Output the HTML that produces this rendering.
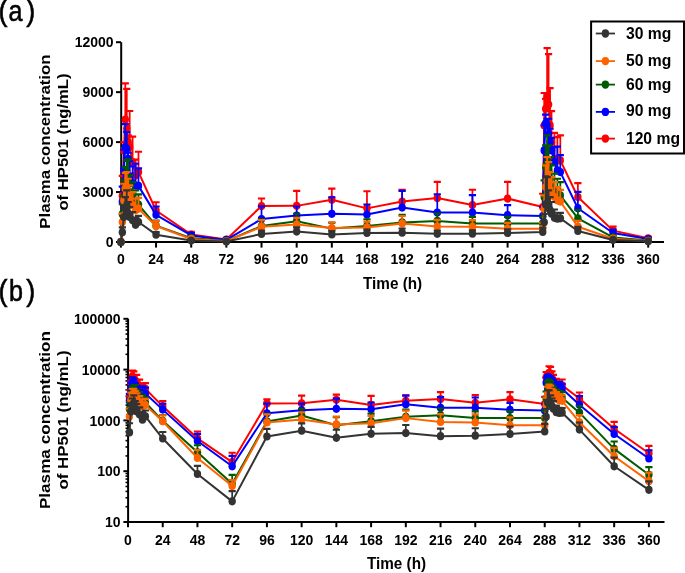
<!DOCTYPE html>
<html><head><meta charset="utf-8"><style>
html,body{margin:0;padding:0;background:#fff;}
body{width:685px;height:573px;overflow:hidden;}
svg{display:block;will-change:transform;}
text{font-family:"Liberation Sans", sans-serif;fill:#000;}
.tk{font-size:14px;font-weight:bold;}
.ttl{font-size:15.3px;font-weight:bold;}
.yt{font-size:15.4px;font-weight:bold;}
.lg{font-size:15.7px;font-weight:bold;}
.lbl text{font-size:27px;stroke:#000;stroke-width:0.55px;}
</style></head><body>
<svg width="685" height="573" viewBox="0 0 685 573">
<path d="M121.2,42.2V243" stroke="#000" stroke-width="2" fill="none"/>
<path d="M120.2,242H664" stroke="#000" stroke-width="2" fill="none"/>
<path d="M116,242H121" stroke="#000" stroke-width="2"/>
<text transform="translate(113.6,247.2) scale(1,1.06)" text-anchor="end" class="tk">0</text>
<path d="M116,192.05H121" stroke="#000" stroke-width="2"/>
<text transform="translate(113.6,197.25) scale(1,1.06)" text-anchor="end" class="tk">3000</text>
<path d="M116,142.1H121" stroke="#000" stroke-width="2"/>
<text transform="translate(113.6,147.3) scale(1,1.06)" text-anchor="end" class="tk">6000</text>
<path d="M116,92.15H121" stroke="#000" stroke-width="2"/>
<text transform="translate(113.6,97.35) scale(1,1.06)" text-anchor="end" class="tk">9000</text>
<path d="M116,42.2H121" stroke="#000" stroke-width="2"/>
<text transform="translate(113.6,47.4) scale(1,1.06)" text-anchor="end" class="tk">12000</text>
<path d="M120.9,242V247.6" stroke="#000" stroke-width="2"/>
<text transform="translate(120.9,264.3) scale(1,1.06)" text-anchor="middle" class="tk">0</text>
<path d="M156.05,242V247.6" stroke="#000" stroke-width="2"/>
<text transform="translate(156.05,264.3) scale(1,1.06)" text-anchor="middle" class="tk">24</text>
<path d="M191.21,242V247.6" stroke="#000" stroke-width="2"/>
<text transform="translate(191.21,264.3) scale(1,1.06)" text-anchor="middle" class="tk">48</text>
<path d="M226.36,242V247.6" stroke="#000" stroke-width="2"/>
<text transform="translate(226.36,264.3) scale(1,1.06)" text-anchor="middle" class="tk">72</text>
<path d="M261.51,242V247.6" stroke="#000" stroke-width="2"/>
<text transform="translate(261.51,264.3) scale(1,1.06)" text-anchor="middle" class="tk">96</text>
<path d="M296.67,242V247.6" stroke="#000" stroke-width="2"/>
<text transform="translate(296.67,264.3) scale(1,1.06)" text-anchor="middle" class="tk">120</text>
<path d="M331.82,242V247.6" stroke="#000" stroke-width="2"/>
<text transform="translate(331.82,264.3) scale(1,1.06)" text-anchor="middle" class="tk">144</text>
<path d="M366.97,242V247.6" stroke="#000" stroke-width="2"/>
<text transform="translate(366.97,264.3) scale(1,1.06)" text-anchor="middle" class="tk">168</text>
<path d="M402.13,242V247.6" stroke="#000" stroke-width="2"/>
<text transform="translate(402.13,264.3) scale(1,1.06)" text-anchor="middle" class="tk">192</text>
<path d="M437.28,242V247.6" stroke="#000" stroke-width="2"/>
<text transform="translate(437.28,264.3) scale(1,1.06)" text-anchor="middle" class="tk">216</text>
<path d="M472.43,242V247.6" stroke="#000" stroke-width="2"/>
<text transform="translate(472.43,264.3) scale(1,1.06)" text-anchor="middle" class="tk">240</text>
<path d="M507.59,242V247.6" stroke="#000" stroke-width="2"/>
<text transform="translate(507.59,264.3) scale(1,1.06)" text-anchor="middle" class="tk">264</text>
<path d="M542.74,242V247.6" stroke="#000" stroke-width="2"/>
<text transform="translate(542.74,264.3) scale(1,1.06)" text-anchor="middle" class="tk">288</text>
<path d="M577.89,242V247.6" stroke="#000" stroke-width="2"/>
<text transform="translate(577.89,264.3) scale(1,1.06)" text-anchor="middle" class="tk">312</text>
<path d="M613.05,242V247.6" stroke="#000" stroke-width="2"/>
<text transform="translate(613.05,264.3) scale(1,1.06)" text-anchor="middle" class="tk">336</text>
<path d="M648.2,242V247.6" stroke="#000" stroke-width="2"/>
<text transform="translate(648.2,264.3) scale(1,1.06)" text-anchor="middle" class="tk">360</text>
<text transform="translate(392.6,288.5) scale(1,1.08)" text-anchor="middle" class="ttl">Time (h)</text>
<text transform="translate(49.9,141.6) rotate(-90) scale(1.089,1)" text-anchor="middle" class="yt">Plasma concentration</text>
<text transform="translate(68.2,142) rotate(-90) scale(1.085,1)" text-anchor="middle" class="yt">of HP501 (ng/mL)</text>
<g transform="translate(0,21.3) scale(1,1.1)" class="lbl"><text x="-1.4" y="0">(</text><text transform="translate(8.5,0) scale(0.93,1)">a</text><text x="26.2" y="0">)</text></g>
<path d="M120.9,242 L122.36,195.88 L123.83,150.43 L125.29,119.62 L126.76,128.78 L128.22,142.1 L129.69,147.09 L132.62,162.08 L135.55,175.4 L138.48,172.07 L156.05,210.53 L191.21,234.61 L226.36,239.49 L261.51,206.04 L296.67,205.87 L331.82,199.71 L366.97,208.37 L402.13,201.54 L437.28,198.04 L472.43,205.04 L507.59,198.54 L542.74,207.03 L544.2,125.45 L545.67,108.8 L547.13,97.64 L548.6,104.54 L550.06,125.45 L551.53,142.1 L554.46,158.75 L557.39,160.42 L560.32,160.42 L577.89,197.05 L613.05,230.61 L648.2,238.24" fill="none" stroke="#ff0000" stroke-width="2" stroke-linejoin="round"/>
<path d="M122.36,195.88V175.9M123.83,150.43V142.1M125.29,119.62V83.33M126.76,128.78V88.82M128.22,142.1V135.44M129.69,147.09V110.96M132.62,162.08V136.61M135.55,175.4V159.58M138.48,172.07V151.76M156.05,210.53V202.21M191.21,234.61V231.94M226.36,239.49V238.15M261.51,206.04V198.54M296.67,205.87V190.88M331.82,199.71V188.55M366.97,208.37V191.22M402.13,201.54V189.89M437.28,198.04V181.89M472.43,205.04V189.72M507.59,198.54V181.89M542.74,207.03V193.72M544.2,125.45V92.98M545.67,108.8V98.81M547.13,97.64V48.19M548.6,104.54V54.19M550.06,125.45V88.05M551.53,142.1V111.13M554.46,158.75V132.81M557.39,160.42V137.11M560.32,160.42V135.44M577.89,197.05V183.06M613.05,230.61V226.45M648.2,238.24V236.74" fill="none" stroke="#ff0000" stroke-width="1.75"/>
<path d="M118.76,175.9H125.96M120.23,142.1H127.43M121.69,83.33H128.89M123.16,88.82H130.36M124.62,135.44H131.82M126.09,110.96H133.29M129.02,136.61H136.22M131.95,159.58H139.15M134.88,151.76H142.08M152.45,202.21H159.65M187.61,231.94H194.81M222.76,238.15H229.96M257.91,198.54H265.11M293.07,190.88H300.27M328.22,188.55H335.42M363.37,191.22H370.57M398.53,189.89H405.73M433.68,181.89H440.88M468.83,189.72H476.03M503.99,181.89H511.19M539.14,193.72H546.34M540.6,92.98H547.8M542.07,98.81H549.27M543.53,48.19H550.73M545,54.19H552.2M546.46,88.05H553.66M547.93,111.13H555.13M550.86,132.81H558.06M553.79,137.11H560.99M556.72,135.44H563.92M574.29,183.06H581.49M609.45,226.45H616.65M644.6,236.74H651.8" fill="none" stroke="#ff0000" stroke-width="2.15"/>
<ellipse cx="120.9" cy="242" rx="3.7" ry="4.1" fill="#ff0000"/>
<ellipse cx="122.36" cy="195.88" rx="3.7" ry="4.1" fill="#ff0000"/>
<ellipse cx="123.83" cy="150.43" rx="3.7" ry="4.1" fill="#ff0000"/>
<ellipse cx="125.29" cy="119.62" rx="3.7" ry="4.1" fill="#ff0000"/>
<ellipse cx="126.76" cy="128.78" rx="3.7" ry="4.1" fill="#ff0000"/>
<ellipse cx="128.22" cy="142.1" rx="3.7" ry="4.1" fill="#ff0000"/>
<ellipse cx="129.69" cy="147.09" rx="3.7" ry="4.1" fill="#ff0000"/>
<ellipse cx="132.62" cy="162.08" rx="3.7" ry="4.1" fill="#ff0000"/>
<ellipse cx="135.55" cy="175.4" rx="3.7" ry="4.1" fill="#ff0000"/>
<ellipse cx="138.48" cy="172.07" rx="3.7" ry="4.1" fill="#ff0000"/>
<ellipse cx="156.05" cy="210.53" rx="3.7" ry="4.1" fill="#ff0000"/>
<ellipse cx="191.21" cy="234.61" rx="3.7" ry="4.1" fill="#ff0000"/>
<ellipse cx="226.36" cy="239.49" rx="3.7" ry="4.1" fill="#ff0000"/>
<ellipse cx="261.51" cy="206.04" rx="3.7" ry="4.1" fill="#ff0000"/>
<ellipse cx="296.67" cy="205.87" rx="3.7" ry="4.1" fill="#ff0000"/>
<ellipse cx="331.82" cy="199.71" rx="3.7" ry="4.1" fill="#ff0000"/>
<ellipse cx="366.97" cy="208.37" rx="3.7" ry="4.1" fill="#ff0000"/>
<ellipse cx="402.13" cy="201.54" rx="3.7" ry="4.1" fill="#ff0000"/>
<ellipse cx="437.28" cy="198.04" rx="3.7" ry="4.1" fill="#ff0000"/>
<ellipse cx="472.43" cy="205.04" rx="3.7" ry="4.1" fill="#ff0000"/>
<ellipse cx="507.59" cy="198.54" rx="3.7" ry="4.1" fill="#ff0000"/>
<ellipse cx="542.74" cy="207.03" rx="3.7" ry="4.1" fill="#ff0000"/>
<ellipse cx="544.2" cy="125.45" rx="3.7" ry="4.1" fill="#ff0000"/>
<ellipse cx="545.67" cy="108.8" rx="3.7" ry="4.1" fill="#ff0000"/>
<ellipse cx="547.13" cy="97.64" rx="3.7" ry="4.1" fill="#ff0000"/>
<ellipse cx="548.6" cy="104.54" rx="3.7" ry="4.1" fill="#ff0000"/>
<ellipse cx="550.06" cy="125.45" rx="3.7" ry="4.1" fill="#ff0000"/>
<ellipse cx="551.53" cy="142.1" rx="3.7" ry="4.1" fill="#ff0000"/>
<ellipse cx="554.46" cy="158.75" rx="3.7" ry="4.1" fill="#ff0000"/>
<ellipse cx="557.39" cy="160.42" rx="3.7" ry="4.1" fill="#ff0000"/>
<ellipse cx="560.32" cy="160.42" rx="3.7" ry="4.1" fill="#ff0000"/>
<ellipse cx="577.89" cy="197.05" rx="3.7" ry="4.1" fill="#ff0000"/>
<ellipse cx="613.05" cy="230.61" rx="3.7" ry="4.1" fill="#ff0000"/>
<ellipse cx="648.2" cy="238.24" rx="3.7" ry="4.1" fill="#ff0000"/>
<path d="M120.9,242 L122.36,201.54 L123.83,169.67 L125.29,147.09 L126.76,148.76 L128.22,158.75 L129.69,176.07 L132.62,183.06 L135.55,185.39 L138.48,185.89 L156.05,214.86 L191.21,235.46 L226.36,239.92 L261.51,219.02 L296.67,215.61 L331.82,213.86 L366.97,214.53 L402.13,207.53 L437.28,212.53 L472.43,212.53 L507.59,215.13 L542.74,216.03 L544.2,150.43 L545.67,123.45 L547.13,125.45 L548.6,133.78 L550.06,142.1 L551.53,150.43 L554.46,162.08 L557.39,170.41 L560.32,172.07 L577.89,208.2 L613.05,233.01 L648.2,239.04" fill="none" stroke="#0000ff" stroke-width="2" stroke-linejoin="round"/>
<path d="M122.36,201.54V186.56M123.83,169.67V149.69M125.29,147.09V124.12M126.76,148.76V132.11M128.22,158.75V152.76M129.69,176.07V161.08M132.62,183.06V166.41M135.55,185.39V163.75M138.48,185.89V168.41M156.05,214.86V206.54M191.21,235.46V232.96M226.36,239.92V238.67M261.51,219.02V206.37M296.67,215.61V206.45M331.82,213.86V197.21M366.97,214.53V204.54M402.13,207.53V190.88M437.28,212.53V194.21M472.43,212.53V195.05M507.59,215.13V205.14M542.74,216.03V206.87M544.2,150.43V125.45M545.67,123.45V114.63M547.13,125.45V118.79M548.6,133.78V118.79M550.06,142.1V128.78M551.53,150.43V137.94M554.46,162.08V147.09M557.39,170.41V146.6M560.32,172.07V155.09M577.89,208.2V191.88M613.05,233.01V229.68M648.2,239.04V237.7" fill="none" stroke="#0000ff" stroke-width="1.75"/>
<path d="M118.76,186.56H125.96M120.23,149.69H127.43M121.69,124.12H128.89M123.16,132.11H130.36M124.62,152.76H131.82M126.09,161.08H133.29M129.02,166.41H136.22M131.95,163.75H139.15M134.88,168.41H142.08M152.45,206.54H159.65M187.61,232.96H194.81M222.76,238.67H229.96M257.91,206.37H265.11M293.07,206.45H300.27M328.22,197.21H335.42M363.37,204.54H370.57M398.53,190.88H405.73M433.68,194.21H440.88M468.83,195.05H476.03M503.99,205.14H511.19M539.14,206.87H546.34M540.6,125.45H547.8M542.07,114.63H549.27M543.53,118.79H550.73M545,118.79H552.2M546.46,128.78H553.66M547.93,137.94H555.13M550.86,147.09H558.06M553.79,146.6H560.99M556.72,155.09H563.92M574.29,191.88H581.49M609.45,229.68H616.65M644.6,237.7H651.8" fill="none" stroke="#0000ff" stroke-width="2.15"/>
<ellipse cx="120.9" cy="242" rx="3.7" ry="4.1" fill="#0000ff"/>
<ellipse cx="122.36" cy="201.54" rx="3.7" ry="4.1" fill="#0000ff"/>
<ellipse cx="123.83" cy="169.67" rx="3.7" ry="4.1" fill="#0000ff"/>
<ellipse cx="125.29" cy="147.09" rx="3.7" ry="4.1" fill="#0000ff"/>
<ellipse cx="126.76" cy="148.76" rx="3.7" ry="4.1" fill="#0000ff"/>
<ellipse cx="128.22" cy="158.75" rx="3.7" ry="4.1" fill="#0000ff"/>
<ellipse cx="129.69" cy="176.07" rx="3.7" ry="4.1" fill="#0000ff"/>
<ellipse cx="132.62" cy="183.06" rx="3.7" ry="4.1" fill="#0000ff"/>
<ellipse cx="135.55" cy="185.39" rx="3.7" ry="4.1" fill="#0000ff"/>
<ellipse cx="138.48" cy="185.89" rx="3.7" ry="4.1" fill="#0000ff"/>
<ellipse cx="156.05" cy="214.86" rx="3.7" ry="4.1" fill="#0000ff"/>
<ellipse cx="191.21" cy="235.46" rx="3.7" ry="4.1" fill="#0000ff"/>
<ellipse cx="226.36" cy="239.92" rx="3.7" ry="4.1" fill="#0000ff"/>
<ellipse cx="261.51" cy="219.02" rx="3.7" ry="4.1" fill="#0000ff"/>
<ellipse cx="296.67" cy="215.61" rx="3.7" ry="4.1" fill="#0000ff"/>
<ellipse cx="331.82" cy="213.86" rx="3.7" ry="4.1" fill="#0000ff"/>
<ellipse cx="366.97" cy="214.53" rx="3.7" ry="4.1" fill="#0000ff"/>
<ellipse cx="402.13" cy="207.53" rx="3.7" ry="4.1" fill="#0000ff"/>
<ellipse cx="437.28" cy="212.53" rx="3.7" ry="4.1" fill="#0000ff"/>
<ellipse cx="472.43" cy="212.53" rx="3.7" ry="4.1" fill="#0000ff"/>
<ellipse cx="507.59" cy="215.13" rx="3.7" ry="4.1" fill="#0000ff"/>
<ellipse cx="542.74" cy="216.03" rx="3.7" ry="4.1" fill="#0000ff"/>
<ellipse cx="544.2" cy="150.43" rx="3.7" ry="4.1" fill="#0000ff"/>
<ellipse cx="545.67" cy="123.45" rx="3.7" ry="4.1" fill="#0000ff"/>
<ellipse cx="547.13" cy="125.45" rx="3.7" ry="4.1" fill="#0000ff"/>
<ellipse cx="548.6" cy="133.78" rx="3.7" ry="4.1" fill="#0000ff"/>
<ellipse cx="550.06" cy="142.1" rx="3.7" ry="4.1" fill="#0000ff"/>
<ellipse cx="551.53" cy="150.43" rx="3.7" ry="4.1" fill="#0000ff"/>
<ellipse cx="554.46" cy="162.08" rx="3.7" ry="4.1" fill="#0000ff"/>
<ellipse cx="557.39" cy="170.41" rx="3.7" ry="4.1" fill="#0000ff"/>
<ellipse cx="560.32" cy="172.07" rx="3.7" ry="4.1" fill="#0000ff"/>
<ellipse cx="577.89" cy="208.2" rx="3.7" ry="4.1" fill="#0000ff"/>
<ellipse cx="613.05" cy="233.01" rx="3.7" ry="4.1" fill="#0000ff"/>
<ellipse cx="648.2" cy="239.04" rx="3.7" ry="4.1" fill="#0000ff"/>
<path d="M120.9,242 L122.36,214.19 L123.83,197.05 L125.29,187.06 L126.76,182.06 L128.22,183.72 L129.69,192.05 L132.62,197.05 L135.55,202.04 L138.48,204.54 L156.05,225.68 L191.21,238.09 L226.36,241.06 L261.51,226.1 L296.67,221.24 L331.82,228.61 L366.97,225.95 L402.13,222.44 L437.28,220.94 L472.43,223.54 L507.59,223.54 L542.74,223.45 L544.2,197.05 L545.67,167.07 L547.13,163.75 L548.6,170.41 L550.06,178.73 L551.53,185.39 L554.46,190.38 L557.39,193.72 L560.32,195.38 L577.89,218.36 L613.05,237.42 L648.2,240.58" fill="none" stroke="#005a00" stroke-width="2" stroke-linejoin="round"/>
<path d="M122.36,214.19V204.2M123.83,197.05V180.4M125.29,187.06V167.07M126.76,182.06V160.42M128.22,183.72V159.25M129.69,192.05V175.4M132.62,197.05V182.06M135.55,202.04V190.38M138.48,204.54V194.38M156.05,225.68V220.69M191.21,238.09V236.59M226.36,241.06V240.59M261.51,226.1V219.44M296.67,221.24V213.74M331.82,228.61V222.79M366.97,225.95V219.29M402.13,222.44V214.94M437.28,220.94V213.45M472.43,223.54V216.88M507.59,223.54V216.88M542.74,223.45V216.79M544.2,197.05V180.4M545.67,167.07V145.43M547.13,163.75V135.44M548.6,170.41V145.43M550.06,178.73V157.08M551.53,185.39V165.41M554.46,190.38V173.74M557.39,193.72V178.73M560.32,195.38V182.06M577.89,218.36V210.03M613.05,237.42V235.59M648.2,240.58V240" fill="none" stroke="#005a00" stroke-width="1.75"/>
<path d="M118.76,204.2H125.96M120.23,180.4H127.43M121.69,167.07H128.89M123.16,160.42H130.36M124.62,159.25H131.82M126.09,175.4H133.29M129.02,182.06H136.22M131.95,190.38H139.15M134.88,194.38H142.08M152.45,220.69H159.65M187.61,236.59H194.81M222.76,240.59H229.96M257.91,219.44H265.11M293.07,213.74H300.27M328.22,222.79H335.42M363.37,219.29H370.57M398.53,214.94H405.73M433.68,213.45H440.88M468.83,216.88H476.03M503.99,216.88H511.19M539.14,216.79H546.34M540.6,180.4H547.8M542.07,145.43H549.27M543.53,135.44H550.73M545,145.43H552.2M546.46,157.08H553.66M547.93,165.41H555.13M550.86,173.74H558.06M553.79,178.73H560.99M556.72,182.06H563.92M574.29,210.03H581.49M609.45,235.59H616.65M644.6,240H651.8" fill="none" stroke="#005a00" stroke-width="2.15"/>
<ellipse cx="120.9" cy="242" rx="3.7" ry="4.1" fill="#005a00"/>
<ellipse cx="122.36" cy="214.19" rx="3.7" ry="4.1" fill="#005a00"/>
<ellipse cx="123.83" cy="197.05" rx="3.7" ry="4.1" fill="#005a00"/>
<ellipse cx="125.29" cy="187.06" rx="3.7" ry="4.1" fill="#005a00"/>
<ellipse cx="126.76" cy="182.06" rx="3.7" ry="4.1" fill="#005a00"/>
<ellipse cx="128.22" cy="183.72" rx="3.7" ry="4.1" fill="#005a00"/>
<ellipse cx="129.69" cy="192.05" rx="3.7" ry="4.1" fill="#005a00"/>
<ellipse cx="132.62" cy="197.05" rx="3.7" ry="4.1" fill="#005a00"/>
<ellipse cx="135.55" cy="202.04" rx="3.7" ry="4.1" fill="#005a00"/>
<ellipse cx="138.48" cy="204.54" rx="3.7" ry="4.1" fill="#005a00"/>
<ellipse cx="156.05" cy="225.68" rx="3.7" ry="4.1" fill="#005a00"/>
<ellipse cx="191.21" cy="238.09" rx="3.7" ry="4.1" fill="#005a00"/>
<ellipse cx="226.36" cy="241.06" rx="3.7" ry="4.1" fill="#005a00"/>
<ellipse cx="261.51" cy="226.1" rx="3.7" ry="4.1" fill="#005a00"/>
<ellipse cx="296.67" cy="221.24" rx="3.7" ry="4.1" fill="#005a00"/>
<ellipse cx="331.82" cy="228.61" rx="3.7" ry="4.1" fill="#005a00"/>
<ellipse cx="366.97" cy="225.95" rx="3.7" ry="4.1" fill="#005a00"/>
<ellipse cx="402.13" cy="222.44" rx="3.7" ry="4.1" fill="#005a00"/>
<ellipse cx="437.28" cy="220.94" rx="3.7" ry="4.1" fill="#005a00"/>
<ellipse cx="472.43" cy="223.54" rx="3.7" ry="4.1" fill="#005a00"/>
<ellipse cx="507.59" cy="223.54" rx="3.7" ry="4.1" fill="#005a00"/>
<ellipse cx="542.74" cy="223.45" rx="3.7" ry="4.1" fill="#005a00"/>
<ellipse cx="544.2" cy="197.05" rx="3.7" ry="4.1" fill="#005a00"/>
<ellipse cx="545.67" cy="167.07" rx="3.7" ry="4.1" fill="#005a00"/>
<ellipse cx="547.13" cy="163.75" rx="3.7" ry="4.1" fill="#005a00"/>
<ellipse cx="548.6" cy="170.41" rx="3.7" ry="4.1" fill="#005a00"/>
<ellipse cx="550.06" cy="178.73" rx="3.7" ry="4.1" fill="#005a00"/>
<ellipse cx="551.53" cy="185.39" rx="3.7" ry="4.1" fill="#005a00"/>
<ellipse cx="554.46" cy="190.38" rx="3.7" ry="4.1" fill="#005a00"/>
<ellipse cx="557.39" cy="193.72" rx="3.7" ry="4.1" fill="#005a00"/>
<ellipse cx="560.32" cy="195.38" rx="3.7" ry="4.1" fill="#005a00"/>
<ellipse cx="577.89" cy="218.36" rx="3.7" ry="4.1" fill="#005a00"/>
<ellipse cx="613.05" cy="237.42" rx="3.7" ry="4.1" fill="#005a00"/>
<ellipse cx="648.2" cy="240.58" rx="3.7" ry="4.1" fill="#005a00"/>
<path d="M120.9,242 L122.36,222.02 L123.83,200.38 L125.29,188.55 L126.76,190.38 L128.22,195.38 L129.69,200.38 L132.62,205.37 L135.55,210.37 L138.48,208.7 L156.05,226.02 L191.21,238.97 L226.36,241.15 L261.51,226.85 L296.67,224.57 L331.82,228.11 L366.97,227.4 L402.13,223.54 L437.28,226.5 L472.43,226.83 L507.59,228.66 L542.74,228.66 L544.2,208.7 L545.67,187.06 L547.13,180.4 L548.6,183.72 L550.06,190.38 L551.53,193.72 L554.46,197.05 L557.39,200.38 L560.32,201.54 L577.89,226.68 L613.05,238.72 L648.2,240.94" fill="none" stroke="#ff6300" stroke-width="2" stroke-linejoin="round"/>
<path d="M122.36,222.02V213.69M123.83,200.38V183.72M125.29,188.55V172.9M126.76,190.38V172.07M128.22,195.38V178.73M129.69,200.38V185.39M132.62,205.37V192.05M135.55,210.37V198.71M138.48,208.7V197.88M156.05,226.02V221.02M191.21,238.97V237.64M226.36,241.15V240.88M261.51,226.85V220.19M296.67,224.57V217.91M331.82,228.11V222.29M366.97,227.4V221.57M402.13,223.54V216.04M437.28,226.5V219.84M472.43,226.83V220.17M507.59,228.66V222.84M542.74,228.66V222.84M544.2,208.7V195.38M545.67,187.06V165.41M547.13,180.4V157.08M548.6,183.72V162.08M550.06,190.38V172.07M551.53,193.72V177.06M554.46,197.05V182.06M557.39,200.38V187.06M560.32,201.54V189.89M577.89,226.68V220.85M613.05,238.72V237.22M648.2,240.94V240.44" fill="none" stroke="#ff6300" stroke-width="1.75"/>
<path d="M118.76,213.69H125.96M120.23,183.72H127.43M121.69,172.9H128.89M123.16,172.07H130.36M124.62,178.73H131.82M126.09,185.39H133.29M129.02,192.05H136.22M131.95,198.71H139.15M134.88,197.88H142.08M152.45,221.02H159.65M187.61,237.64H194.81M222.76,240.88H229.96M257.91,220.19H265.11M293.07,217.91H300.27M328.22,222.29H335.42M363.37,221.57H370.57M398.53,216.04H405.73M433.68,219.84H440.88M468.83,220.17H476.03M503.99,222.84H511.19M539.14,222.84H546.34M540.6,195.38H547.8M542.07,165.41H549.27M543.53,157.08H550.73M545,162.08H552.2M546.46,172.07H553.66M547.93,177.06H555.13M550.86,182.06H558.06M553.79,187.06H560.99M556.72,189.89H563.92M574.29,220.85H581.49M609.45,237.22H616.65M644.6,240.44H651.8" fill="none" stroke="#ff6300" stroke-width="2.15"/>
<ellipse cx="120.9" cy="242" rx="3.7" ry="4.1" fill="#ff6300"/>
<ellipse cx="122.36" cy="222.02" rx="3.7" ry="4.1" fill="#ff6300"/>
<ellipse cx="123.83" cy="200.38" rx="3.7" ry="4.1" fill="#ff6300"/>
<ellipse cx="125.29" cy="188.55" rx="3.7" ry="4.1" fill="#ff6300"/>
<ellipse cx="126.76" cy="190.38" rx="3.7" ry="4.1" fill="#ff6300"/>
<ellipse cx="128.22" cy="195.38" rx="3.7" ry="4.1" fill="#ff6300"/>
<ellipse cx="129.69" cy="200.38" rx="3.7" ry="4.1" fill="#ff6300"/>
<ellipse cx="132.62" cy="205.37" rx="3.7" ry="4.1" fill="#ff6300"/>
<ellipse cx="135.55" cy="210.37" rx="3.7" ry="4.1" fill="#ff6300"/>
<ellipse cx="138.48" cy="208.7" rx="3.7" ry="4.1" fill="#ff6300"/>
<ellipse cx="156.05" cy="226.02" rx="3.7" ry="4.1" fill="#ff6300"/>
<ellipse cx="191.21" cy="238.97" rx="3.7" ry="4.1" fill="#ff6300"/>
<ellipse cx="226.36" cy="241.15" rx="3.7" ry="4.1" fill="#ff6300"/>
<ellipse cx="261.51" cy="226.85" rx="3.7" ry="4.1" fill="#ff6300"/>
<ellipse cx="296.67" cy="224.57" rx="3.7" ry="4.1" fill="#ff6300"/>
<ellipse cx="331.82" cy="228.11" rx="3.7" ry="4.1" fill="#ff6300"/>
<ellipse cx="366.97" cy="227.4" rx="3.7" ry="4.1" fill="#ff6300"/>
<ellipse cx="402.13" cy="223.54" rx="3.7" ry="4.1" fill="#ff6300"/>
<ellipse cx="437.28" cy="226.5" rx="3.7" ry="4.1" fill="#ff6300"/>
<ellipse cx="472.43" cy="226.83" rx="3.7" ry="4.1" fill="#ff6300"/>
<ellipse cx="507.59" cy="228.66" rx="3.7" ry="4.1" fill="#ff6300"/>
<ellipse cx="542.74" cy="228.66" rx="3.7" ry="4.1" fill="#ff6300"/>
<ellipse cx="544.2" cy="208.7" rx="3.7" ry="4.1" fill="#ff6300"/>
<ellipse cx="545.67" cy="187.06" rx="3.7" ry="4.1" fill="#ff6300"/>
<ellipse cx="547.13" cy="180.4" rx="3.7" ry="4.1" fill="#ff6300"/>
<ellipse cx="548.6" cy="183.72" rx="3.7" ry="4.1" fill="#ff6300"/>
<ellipse cx="550.06" cy="190.38" rx="3.7" ry="4.1" fill="#ff6300"/>
<ellipse cx="551.53" cy="193.72" rx="3.7" ry="4.1" fill="#ff6300"/>
<ellipse cx="554.46" cy="197.05" rx="3.7" ry="4.1" fill="#ff6300"/>
<ellipse cx="557.39" cy="200.38" rx="3.7" ry="4.1" fill="#ff6300"/>
<ellipse cx="560.32" cy="201.54" rx="3.7" ry="4.1" fill="#ff6300"/>
<ellipse cx="577.89" cy="226.68" rx="3.7" ry="4.1" fill="#ff6300"/>
<ellipse cx="613.05" cy="238.72" rx="3.7" ry="4.1" fill="#ff6300"/>
<ellipse cx="648.2" cy="240.94" rx="3.7" ry="4.1" fill="#ff6300"/>
<path d="M120.9,242 L122.36,232.34 L123.83,217.03 L125.29,208.7 L126.76,205.37 L128.22,213.69 L129.69,217.03 L132.62,220.35 L135.55,224.85 L138.48,222.02 L156.05,234.67 L191.21,240.53 L226.36,241.58 L261.51,233.97 L296.67,231.56 L331.82,234.44 L366.97,232.93 L402.13,232.64 L437.28,233.86 L472.43,233.68 L507.59,233.01 L542.74,231.93 L544.2,222.35 L545.67,204.54 L547.13,203.7 L548.6,207.03 L550.06,210.37 L551.53,213.69 L554.46,217.86 L557.39,218.69 L560.32,218.36 L577.89,231.01 L613.05,239.92 L648.2,241.28" fill="none" stroke="#333333" stroke-width="2" stroke-linejoin="round"/>
<path d="M122.36,232.34V227.35M123.83,217.03V205.37M125.29,208.7V197.05M126.76,205.37V190.38M128.22,213.69V202.04M129.69,217.03V207.03M132.62,220.35V212.03M135.55,224.85V217.86M138.48,222.02V215.86M156.05,234.67V232.18M191.21,240.53V239.89M226.36,241.58V241.33M261.51,233.97V230.64M296.67,231.56V227.4M331.82,234.44V231.11M366.97,232.93V229.6M402.13,232.64V228.48M437.28,233.86V230.53M472.43,233.68V230.34M507.59,233.01V229.35M542.74,231.93V227.76M544.2,222.35V214.03M545.67,204.54V176.23M547.13,203.7V177.06M548.6,207.03V190.38M550.06,210.37V197.05M551.53,213.69V202.04M554.46,217.86V209.53M557.39,218.69V212.7M560.32,218.36V212.86M577.89,231.01V226.85M613.05,239.92V238.92M648.2,241.28V240.95" fill="none" stroke="#333333" stroke-width="1.75"/>
<path d="M118.76,227.35H125.96M120.23,205.37H127.43M121.69,197.05H128.89M123.16,190.38H130.36M124.62,202.04H131.82M126.09,207.03H133.29M129.02,212.03H136.22M131.95,217.86H139.15M134.88,215.86H142.08M152.45,232.18H159.65M187.61,239.89H194.81M222.76,241.33H229.96M257.91,230.64H265.11M293.07,227.4H300.27M328.22,231.11H335.42M363.37,229.6H370.57M398.53,228.48H405.73M433.68,230.53H440.88M468.83,230.34H476.03M503.99,229.35H511.19M539.14,227.76H546.34M540.6,214.03H547.8M542.07,176.23H549.27M543.53,177.06H550.73M545,190.38H552.2M546.46,197.05H553.66M547.93,202.04H555.13M550.86,209.53H558.06M553.79,212.7H560.99M556.72,212.86H563.92M574.29,226.85H581.49M609.45,238.92H616.65M644.6,240.95H651.8" fill="none" stroke="#333333" stroke-width="2.15"/>
<ellipse cx="120.9" cy="242" rx="3.7" ry="4.1" fill="#333333"/>
<ellipse cx="122.36" cy="232.34" rx="3.7" ry="4.1" fill="#333333"/>
<ellipse cx="123.83" cy="217.03" rx="3.7" ry="4.1" fill="#333333"/>
<ellipse cx="125.29" cy="208.7" rx="3.7" ry="4.1" fill="#333333"/>
<ellipse cx="126.76" cy="205.37" rx="3.7" ry="4.1" fill="#333333"/>
<ellipse cx="128.22" cy="213.69" rx="3.7" ry="4.1" fill="#333333"/>
<ellipse cx="129.69" cy="217.03" rx="3.7" ry="4.1" fill="#333333"/>
<ellipse cx="132.62" cy="220.35" rx="3.7" ry="4.1" fill="#333333"/>
<ellipse cx="135.55" cy="224.85" rx="3.7" ry="4.1" fill="#333333"/>
<ellipse cx="138.48" cy="222.02" rx="3.7" ry="4.1" fill="#333333"/>
<ellipse cx="156.05" cy="234.67" rx="3.7" ry="4.1" fill="#333333"/>
<ellipse cx="191.21" cy="240.53" rx="3.7" ry="4.1" fill="#333333"/>
<ellipse cx="226.36" cy="241.58" rx="3.7" ry="4.1" fill="#333333"/>
<ellipse cx="261.51" cy="233.97" rx="3.7" ry="4.1" fill="#333333"/>
<ellipse cx="296.67" cy="231.56" rx="3.7" ry="4.1" fill="#333333"/>
<ellipse cx="331.82" cy="234.44" rx="3.7" ry="4.1" fill="#333333"/>
<ellipse cx="366.97" cy="232.93" rx="3.7" ry="4.1" fill="#333333"/>
<ellipse cx="402.13" cy="232.64" rx="3.7" ry="4.1" fill="#333333"/>
<ellipse cx="437.28" cy="233.86" rx="3.7" ry="4.1" fill="#333333"/>
<ellipse cx="472.43" cy="233.68" rx="3.7" ry="4.1" fill="#333333"/>
<ellipse cx="507.59" cy="233.01" rx="3.7" ry="4.1" fill="#333333"/>
<ellipse cx="542.74" cy="231.93" rx="3.7" ry="4.1" fill="#333333"/>
<ellipse cx="544.2" cy="222.35" rx="3.7" ry="4.1" fill="#333333"/>
<ellipse cx="545.67" cy="204.54" rx="3.7" ry="4.1" fill="#333333"/>
<ellipse cx="547.13" cy="203.7" rx="3.7" ry="4.1" fill="#333333"/>
<ellipse cx="548.6" cy="207.03" rx="3.7" ry="4.1" fill="#333333"/>
<ellipse cx="550.06" cy="210.37" rx="3.7" ry="4.1" fill="#333333"/>
<ellipse cx="551.53" cy="213.69" rx="3.7" ry="4.1" fill="#333333"/>
<ellipse cx="554.46" cy="217.86" rx="3.7" ry="4.1" fill="#333333"/>
<ellipse cx="557.39" cy="218.69" rx="3.7" ry="4.1" fill="#333333"/>
<ellipse cx="560.32" cy="218.36" rx="3.7" ry="4.1" fill="#333333"/>
<ellipse cx="577.89" cy="231.01" rx="3.7" ry="4.1" fill="#333333"/>
<ellipse cx="613.05" cy="239.92" rx="3.7" ry="4.1" fill="#333333"/>
<ellipse cx="648.2" cy="241.28" rx="3.7" ry="4.1" fill="#333333"/>
<rect x="591.1" y="21.5" width="92.9" height="132" fill="#fff" stroke="#000" stroke-width="2"/>
<path d="M595.8,33.5H615" stroke="#333333" stroke-width="1.8"/>
<ellipse cx="605.4" cy="33.5" rx="3.7" ry="4.15" fill="#333333"/>
<text transform="translate(625.9,38.7) scale(1,1.07)" class="lg">30 mg</text>
<path d="M595.8,61.1H615" stroke="#ff6300" stroke-width="1.8"/>
<ellipse cx="605.4" cy="61.1" rx="3.7" ry="4.15" fill="#ff6300"/>
<text transform="translate(625.9,66.0) scale(1,1.07)" class="lg">50 mg</text>
<path d="M595.8,84.6H615" stroke="#005a00" stroke-width="1.8"/>
<ellipse cx="605.4" cy="84.6" rx="3.7" ry="4.15" fill="#005a00"/>
<text transform="translate(625.9,89.6) scale(1,1.07)" class="lg">60 mg</text>
<path d="M595.8,111.9H615" stroke="#0000ff" stroke-width="1.8"/>
<ellipse cx="605.4" cy="111.9" rx="3.7" ry="4.15" fill="#0000ff"/>
<text transform="translate(625.9,116.3) scale(1,1.07)" class="lg">90 mg</text>
<path d="M595.8,138.6H615" stroke="#ff0000" stroke-width="1.8"/>
<ellipse cx="605.4" cy="138.6" rx="3.7" ry="4.15" fill="#ff0000"/>
<text transform="translate(625.9,143.5) scale(1,1.07)" class="lg">120 mg</text>
<path d="M128.1,318.8V523" stroke="#000" stroke-width="2" fill="none"/>
<path d="M127.1,522H664.5" stroke="#000" stroke-width="2" fill="none"/>
<path d="M123.4,522H128.3" stroke="#000" stroke-width="2"/>
<text transform="translate(120.6,527.2) scale(1,1.06)" text-anchor="end" class="tk">10</text>
<path d="M125.5,506.71H128.3" stroke="#000" stroke-width="1.6"/>
<path d="M125.5,497.76H128.3" stroke="#000" stroke-width="1.6"/>
<path d="M125.5,491.42H128.3" stroke="#000" stroke-width="1.6"/>
<path d="M125.5,486.49H128.3" stroke="#000" stroke-width="1.6"/>
<path d="M125.5,482.47H128.3" stroke="#000" stroke-width="1.6"/>
<path d="M125.5,479.07H128.3" stroke="#000" stroke-width="1.6"/>
<path d="M125.5,476.12H128.3" stroke="#000" stroke-width="1.6"/>
<path d="M125.5,473.52H128.3" stroke="#000" stroke-width="1.6"/>
<path d="M123.4,471.2H128.3" stroke="#000" stroke-width="2"/>
<text transform="translate(120.6,476.4) scale(1,1.06)" text-anchor="end" class="tk">100</text>
<path d="M125.5,455.91H128.3" stroke="#000" stroke-width="1.6"/>
<path d="M125.5,446.96H128.3" stroke="#000" stroke-width="1.6"/>
<path d="M125.5,440.62H128.3" stroke="#000" stroke-width="1.6"/>
<path d="M125.5,435.69H128.3" stroke="#000" stroke-width="1.6"/>
<path d="M125.5,431.67H128.3" stroke="#000" stroke-width="1.6"/>
<path d="M125.5,428.27H128.3" stroke="#000" stroke-width="1.6"/>
<path d="M125.5,425.32H128.3" stroke="#000" stroke-width="1.6"/>
<path d="M125.5,422.72H128.3" stroke="#000" stroke-width="1.6"/>
<path d="M123.4,420.4H128.3" stroke="#000" stroke-width="2"/>
<text transform="translate(120.6,425.6) scale(1,1.06)" text-anchor="end" class="tk">1000</text>
<path d="M125.5,405.11H128.3" stroke="#000" stroke-width="1.6"/>
<path d="M125.5,396.16H128.3" stroke="#000" stroke-width="1.6"/>
<path d="M125.5,389.82H128.3" stroke="#000" stroke-width="1.6"/>
<path d="M125.5,384.89H128.3" stroke="#000" stroke-width="1.6"/>
<path d="M125.5,380.87H128.3" stroke="#000" stroke-width="1.6"/>
<path d="M125.5,377.47H128.3" stroke="#000" stroke-width="1.6"/>
<path d="M125.5,374.52H128.3" stroke="#000" stroke-width="1.6"/>
<path d="M125.5,371.92H128.3" stroke="#000" stroke-width="1.6"/>
<path d="M123.4,369.6H128.3" stroke="#000" stroke-width="2"/>
<text transform="translate(120.6,374.8) scale(1,1.06)" text-anchor="end" class="tk">10000</text>
<path d="M125.5,354.31H128.3" stroke="#000" stroke-width="1.6"/>
<path d="M125.5,345.36H128.3" stroke="#000" stroke-width="1.6"/>
<path d="M125.5,339.02H128.3" stroke="#000" stroke-width="1.6"/>
<path d="M125.5,334.09H128.3" stroke="#000" stroke-width="1.6"/>
<path d="M125.5,330.07H128.3" stroke="#000" stroke-width="1.6"/>
<path d="M125.5,326.67H128.3" stroke="#000" stroke-width="1.6"/>
<path d="M125.5,323.72H128.3" stroke="#000" stroke-width="1.6"/>
<path d="M125.5,321.12H128.3" stroke="#000" stroke-width="1.6"/>
<path d="M123.4,318.8H128.3" stroke="#000" stroke-width="2"/>
<text transform="translate(120.6,324) scale(1,1.06)" text-anchor="end" class="tk">100000</text>
<path d="M128,522V527.2" stroke="#000" stroke-width="2"/>
<text transform="translate(128,544.5) scale(1,1.06)" text-anchor="middle" class="tk">0</text>
<path d="M162.73,522V527.2" stroke="#000" stroke-width="2"/>
<text transform="translate(162.73,544.5) scale(1,1.06)" text-anchor="middle" class="tk">24</text>
<path d="M197.45,522V527.2" stroke="#000" stroke-width="2"/>
<text transform="translate(197.45,544.5) scale(1,1.06)" text-anchor="middle" class="tk">48</text>
<path d="M232.18,522V527.2" stroke="#000" stroke-width="2"/>
<text transform="translate(232.18,544.5) scale(1,1.06)" text-anchor="middle" class="tk">72</text>
<path d="M266.91,522V527.2" stroke="#000" stroke-width="2"/>
<text transform="translate(266.91,544.5) scale(1,1.06)" text-anchor="middle" class="tk">96</text>
<path d="M301.63,522V527.2" stroke="#000" stroke-width="2"/>
<text transform="translate(301.63,544.5) scale(1,1.06)" text-anchor="middle" class="tk">120</text>
<path d="M336.36,522V527.2" stroke="#000" stroke-width="2"/>
<text transform="translate(336.36,544.5) scale(1,1.06)" text-anchor="middle" class="tk">144</text>
<path d="M371.09,522V527.2" stroke="#000" stroke-width="2"/>
<text transform="translate(371.09,544.5) scale(1,1.06)" text-anchor="middle" class="tk">168</text>
<path d="M405.81,522V527.2" stroke="#000" stroke-width="2"/>
<text transform="translate(405.81,544.5) scale(1,1.06)" text-anchor="middle" class="tk">192</text>
<path d="M440.54,522V527.2" stroke="#000" stroke-width="2"/>
<text transform="translate(440.54,544.5) scale(1,1.06)" text-anchor="middle" class="tk">216</text>
<path d="M475.27,522V527.2" stroke="#000" stroke-width="2"/>
<text transform="translate(475.27,544.5) scale(1,1.06)" text-anchor="middle" class="tk">240</text>
<path d="M509.99,522V527.2" stroke="#000" stroke-width="2"/>
<text transform="translate(509.99,544.5) scale(1,1.06)" text-anchor="middle" class="tk">264</text>
<path d="M544.72,522V527.2" stroke="#000" stroke-width="2"/>
<text transform="translate(544.72,544.5) scale(1,1.06)" text-anchor="middle" class="tk">288</text>
<path d="M579.45,522V527.2" stroke="#000" stroke-width="2"/>
<text transform="translate(579.45,544.5) scale(1,1.06)" text-anchor="middle" class="tk">312</text>
<path d="M614.17,522V527.2" stroke="#000" stroke-width="2"/>
<text transform="translate(614.17,544.5) scale(1,1.06)" text-anchor="middle" class="tk">336</text>
<path d="M648.9,522V527.2" stroke="#000" stroke-width="2"/>
<text transform="translate(648.9,544.5) scale(1,1.06)" text-anchor="middle" class="tk">360</text>
<text transform="translate(396.5,568.7) scale(1,1.08)" text-anchor="middle" class="ttl">Time (h)</text>
<text transform="translate(49.8,420.1) rotate(-90) scale(1.113,1)" text-anchor="middle" class="yt">Plasma concentration</text>
<text transform="translate(68.4,420) rotate(-90) scale(1.1,1)" text-anchor="middle" class="yt">of HP501 (ng/mL)</text>
<g transform="translate(0,300.8) scale(1,1.1)" class="lbl"><text x="-1.4" y="0">(</text><text transform="translate(9,0) scale(0.93,1)">b</text><text x="26.2" y="0">)</text></g>
<path d="M129.45,397.92 L130.89,382.79 L132.34,376.39 L133.79,378.11 L135.23,380.87 L136.68,382 L139.58,385.79 L142.47,389.82 L145.36,388.74 L162.73,406.36 L197.45,438.31 L232.18,462.11 L266.91,403.41 L301.63,403.31 L336.36,399.83 L371.09,404.89 L405.81,400.81 L440.54,398.98 L475.27,402.81 L509.99,399.23 L544.72,404.03 L546.17,377.47 L547.61,374.52 L549.06,372.75 L550.51,373.83 L551.95,377.47 L553.4,380.87 L556.3,384.89 L559.19,385.34 L562.08,385.34 L579.45,398.49 L614.17,428.78 L648.9,453.21" fill="none" stroke="#ff0000" stroke-width="2" stroke-linejoin="round"/>
<path d="M129.45,397.92V389.98M130.89,382.79V380.87M132.34,376.39V370.66M133.79,378.11V371.44M135.23,380.87V379.45M136.68,382V374.88M139.58,385.79V379.69M142.47,389.82V385.11M145.36,388.74V383.11M162.73,406.36V401.18M197.45,438.31V431.52M232.18,462.11V452.73M266.91,403.41V399.23M301.63,403.31V395.65M336.36,399.83V394.67M371.09,404.89V395.8M405.81,400.81V395.23M440.54,398.98V392.08M475.27,402.81V395.16M509.99,399.23V392.08M544.72,404.03V396.91M546.17,377.47V372.05M547.61,374.52V372.93M549.06,372.75V366.25M550.51,373.83V366.94M551.95,377.47V371.33M553.4,380.87V374.91M556.3,384.89V378.91M559.19,385.34V379.79M562.08,385.34V379.45M579.45,398.49V392.51M614.17,428.78V421.91M648.9,453.21V445.82" fill="none" stroke="#ff0000" stroke-width="1.75"/>
<path d="M125.85,389.98H133.05M127.29,380.87H134.49M128.74,370.66H135.94M130.19,371.44H137.39M131.63,379.45H138.83M133.08,374.88H140.28M135.98,379.69H143.18M138.87,385.11H146.07M141.76,383.11H148.96M159.13,401.18H166.33M193.85,431.52H201.05M228.58,452.73H235.78M263.31,399.23H270.51M298.03,395.65H305.23M332.76,394.67H339.96M367.49,395.8H374.69M402.21,395.23H409.41M436.94,392.08H444.14M471.67,395.16H478.87M506.39,392.08H513.59M541.12,396.91H548.32M542.57,372.05H549.77M544.01,372.93H551.21M545.46,366.25H552.66M546.91,366.94H554.11M548.35,371.33H555.55M549.8,374.91H557M552.7,378.91H559.9M555.59,379.79H562.79M558.48,379.45H565.68M575.85,392.51H583.05M610.57,421.91H617.77M645.3,445.82H652.5" fill="none" stroke="#ff0000" stroke-width="2.15"/>
<ellipse cx="129.45" cy="397.92" rx="3.7" ry="4.1" fill="#ff0000"/>
<ellipse cx="130.89" cy="382.79" rx="3.7" ry="4.1" fill="#ff0000"/>
<ellipse cx="132.34" cy="376.39" rx="3.7" ry="4.1" fill="#ff0000"/>
<ellipse cx="133.79" cy="378.11" rx="3.7" ry="4.1" fill="#ff0000"/>
<ellipse cx="135.23" cy="380.87" rx="3.7" ry="4.1" fill="#ff0000"/>
<ellipse cx="136.68" cy="382" rx="3.7" ry="4.1" fill="#ff0000"/>
<ellipse cx="139.58" cy="385.79" rx="3.7" ry="4.1" fill="#ff0000"/>
<ellipse cx="142.47" cy="389.82" rx="3.7" ry="4.1" fill="#ff0000"/>
<ellipse cx="145.36" cy="388.74" rx="3.7" ry="4.1" fill="#ff0000"/>
<ellipse cx="162.73" cy="406.36" rx="3.7" ry="4.1" fill="#ff0000"/>
<ellipse cx="197.45" cy="438.31" rx="3.7" ry="4.1" fill="#ff0000"/>
<ellipse cx="232.18" cy="462.11" rx="3.7" ry="4.1" fill="#ff0000"/>
<ellipse cx="266.91" cy="403.41" rx="3.7" ry="4.1" fill="#ff0000"/>
<ellipse cx="301.63" cy="403.31" rx="3.7" ry="4.1" fill="#ff0000"/>
<ellipse cx="336.36" cy="399.83" rx="3.7" ry="4.1" fill="#ff0000"/>
<ellipse cx="371.09" cy="404.89" rx="3.7" ry="4.1" fill="#ff0000"/>
<ellipse cx="405.81" cy="400.81" rx="3.7" ry="4.1" fill="#ff0000"/>
<ellipse cx="440.54" cy="398.98" rx="3.7" ry="4.1" fill="#ff0000"/>
<ellipse cx="475.27" cy="402.81" rx="3.7" ry="4.1" fill="#ff0000"/>
<ellipse cx="509.99" cy="399.23" rx="3.7" ry="4.1" fill="#ff0000"/>
<ellipse cx="544.72" cy="404.03" rx="3.7" ry="4.1" fill="#ff0000"/>
<ellipse cx="546.17" cy="377.47" rx="3.7" ry="4.1" fill="#ff0000"/>
<ellipse cx="547.61" cy="374.52" rx="3.7" ry="4.1" fill="#ff0000"/>
<ellipse cx="549.06" cy="372.75" rx="3.7" ry="4.1" fill="#ff0000"/>
<ellipse cx="550.51" cy="373.83" rx="3.7" ry="4.1" fill="#ff0000"/>
<ellipse cx="551.95" cy="377.47" rx="3.7" ry="4.1" fill="#ff0000"/>
<ellipse cx="553.4" cy="380.87" rx="3.7" ry="4.1" fill="#ff0000"/>
<ellipse cx="556.3" cy="384.89" rx="3.7" ry="4.1" fill="#ff0000"/>
<ellipse cx="559.19" cy="385.34" rx="3.7" ry="4.1" fill="#ff0000"/>
<ellipse cx="562.08" cy="385.34" rx="3.7" ry="4.1" fill="#ff0000"/>
<ellipse cx="579.45" cy="398.49" rx="3.7" ry="4.1" fill="#ff0000"/>
<ellipse cx="614.17" cy="428.78" rx="3.7" ry="4.1" fill="#ff0000"/>
<ellipse cx="648.9" cy="453.21" rx="3.7" ry="4.1" fill="#ff0000"/>
<path d="M129.45,400.81 L130.89,388 L132.34,382 L133.79,382.39 L135.23,384.89 L136.68,390.04 L139.58,392.51 L142.47,393.4 L145.36,393.6 L162.73,409.62 L197.45,441 L232.18,466.28 L266.91,413.29 L301.63,410.24 L336.36,408.82 L371.09,409.35 L405.81,404.35 L440.54,407.8 L475.27,407.8 L509.99,409.84 L544.72,410.59 L546.17,382.79 L547.61,377.09 L549.06,377.47 L550.51,379.1 L551.95,380.87 L553.4,382.79 L556.3,385.79 L559.19,388.22 L562.08,388.74 L579.45,404.78 L614.17,433.99 L648.9,458.48" fill="none" stroke="#0000ff" stroke-width="2" stroke-linejoin="round"/>
<path d="M129.45,400.81V393.86M130.89,388V382.61M132.34,382V377.22M133.79,382.39V378.77M135.23,384.89V383.36M136.68,390.04V385.52M139.58,392.51V387.02M142.47,393.4V386.26M145.36,393.6V387.61M162.73,409.62V403.72M197.45,441V433.87M232.18,466.28V455.91M266.91,413.29V403.61M301.63,410.24V403.67M336.36,408.82V398.57M371.09,409.35V402.51M405.81,404.35V395.65M440.54,407.8V397.14M475.27,407.8V397.53M509.99,409.84V402.86M544.72,410.59V403.93M546.17,382.79V377.47M547.61,377.09V375.51M549.06,377.47V376.24M550.51,379.1V376.24M551.95,380.87V378.11M553.4,382.79V379.97M556.3,385.79V382M559.19,388.22V381.89M562.08,388.74V383.94M579.45,404.78V396.09M614.17,433.99V427.04M648.9,458.48V450.29" fill="none" stroke="#0000ff" stroke-width="1.75"/>
<path d="M125.85,393.86H133.05M127.29,382.61H134.49M128.74,377.22H135.94M130.19,378.77H137.39M131.63,383.36H138.83M133.08,385.52H140.28M135.98,387.02H143.18M138.87,386.26H146.07M141.76,387.61H148.96M159.13,403.72H166.33M193.85,433.87H201.05M228.58,455.91H235.78M263.31,403.61H270.51M298.03,403.67H305.23M332.76,398.57H339.96M367.49,402.51H374.69M402.21,395.65H409.41M436.94,397.14H444.14M471.67,397.53H478.87M506.39,402.86H513.59M541.12,403.93H548.32M542.57,377.47H549.77M544.01,375.51H551.21M545.46,376.24H552.66M546.91,376.24H554.11M548.35,378.11H555.55M549.8,379.97H557M552.7,382H559.9M555.59,381.89H562.79M558.48,383.94H565.68M575.85,396.09H583.05M610.57,427.04H617.77M645.3,450.29H652.5" fill="none" stroke="#0000ff" stroke-width="2.15"/>
<ellipse cx="129.45" cy="400.81" rx="3.7" ry="4.1" fill="#0000ff"/>
<ellipse cx="130.89" cy="388" rx="3.7" ry="4.1" fill="#0000ff"/>
<ellipse cx="132.34" cy="382" rx="3.7" ry="4.1" fill="#0000ff"/>
<ellipse cx="133.79" cy="382.39" rx="3.7" ry="4.1" fill="#0000ff"/>
<ellipse cx="135.23" cy="384.89" rx="3.7" ry="4.1" fill="#0000ff"/>
<ellipse cx="136.68" cy="390.04" rx="3.7" ry="4.1" fill="#0000ff"/>
<ellipse cx="139.58" cy="392.51" rx="3.7" ry="4.1" fill="#0000ff"/>
<ellipse cx="142.47" cy="393.4" rx="3.7" ry="4.1" fill="#0000ff"/>
<ellipse cx="145.36" cy="393.6" rx="3.7" ry="4.1" fill="#0000ff"/>
<ellipse cx="162.73" cy="409.62" rx="3.7" ry="4.1" fill="#0000ff"/>
<ellipse cx="197.45" cy="441" rx="3.7" ry="4.1" fill="#0000ff"/>
<ellipse cx="232.18" cy="466.28" rx="3.7" ry="4.1" fill="#0000ff"/>
<ellipse cx="266.91" cy="413.29" rx="3.7" ry="4.1" fill="#0000ff"/>
<ellipse cx="301.63" cy="410.24" rx="3.7" ry="4.1" fill="#0000ff"/>
<ellipse cx="336.36" cy="408.82" rx="3.7" ry="4.1" fill="#0000ff"/>
<ellipse cx="371.09" cy="409.35" rx="3.7" ry="4.1" fill="#0000ff"/>
<ellipse cx="405.81" cy="404.35" rx="3.7" ry="4.1" fill="#0000ff"/>
<ellipse cx="440.54" cy="407.8" rx="3.7" ry="4.1" fill="#0000ff"/>
<ellipse cx="475.27" cy="407.8" rx="3.7" ry="4.1" fill="#0000ff"/>
<ellipse cx="509.99" cy="409.84" rx="3.7" ry="4.1" fill="#0000ff"/>
<ellipse cx="544.72" cy="410.59" rx="3.7" ry="4.1" fill="#0000ff"/>
<ellipse cx="546.17" cy="382.79" rx="3.7" ry="4.1" fill="#0000ff"/>
<ellipse cx="547.61" cy="377.09" rx="3.7" ry="4.1" fill="#0000ff"/>
<ellipse cx="549.06" cy="377.47" rx="3.7" ry="4.1" fill="#0000ff"/>
<ellipse cx="550.51" cy="379.1" rx="3.7" ry="4.1" fill="#0000ff"/>
<ellipse cx="551.95" cy="380.87" rx="3.7" ry="4.1" fill="#0000ff"/>
<ellipse cx="553.4" cy="382.79" rx="3.7" ry="4.1" fill="#0000ff"/>
<ellipse cx="556.3" cy="385.79" rx="3.7" ry="4.1" fill="#0000ff"/>
<ellipse cx="559.19" cy="388.22" rx="3.7" ry="4.1" fill="#0000ff"/>
<ellipse cx="562.08" cy="388.74" rx="3.7" ry="4.1" fill="#0000ff"/>
<ellipse cx="579.45" cy="404.78" rx="3.7" ry="4.1" fill="#0000ff"/>
<ellipse cx="614.17" cy="433.99" rx="3.7" ry="4.1" fill="#0000ff"/>
<ellipse cx="648.9" cy="458.48" rx="3.7" ry="4.1" fill="#0000ff"/>
<path d="M129.45,409.09 L130.89,398.49 L132.34,394.06 L133.79,392.14 L135.23,392.76 L136.68,396.16 L139.58,398.49 L142.47,401.09 L145.36,402.51 L162.73,420.85 L197.45,452.35 L232.18,483.8 L266.91,421.42 L301.63,415.53 L336.36,425.21 L371.09,421.21 L405.81,416.84 L440.54,415.21 L475.27,418.12 L509.99,418.12 L544.72,418.02 L546.17,398.49 L547.61,387.22 L549.06,386.26 L550.51,388.22 L551.95,390.95 L553.4,393.4 L556.3,395.44 L559.19,396.91 L562.08,397.68 L579.45,412.66 L614.17,448.88 L648.9,474.79" fill="none" stroke="#005a00" stroke-width="2" stroke-linejoin="round"/>
<path d="M129.45,409.09V402.31M130.89,398.49V391.54M132.34,394.06V387.22M133.79,392.14V385.34M135.23,392.76V385.03M136.68,396.16V389.82M139.58,398.49V392.14M142.47,401.09V395.44M145.36,402.51V397.22M162.73,420.85V414.95M197.45,452.35V445.2M232.18,483.8V474.92M266.91,421.42V413.7M301.63,415.53V408.73M336.36,425.21V417.24M371.09,421.21V413.55M405.81,416.84V409.69M440.54,415.21V408.5M475.27,418.12V411.32M509.99,418.12V411.32M544.72,418.02V411.25M546.17,398.49V391.54M547.61,387.22V381.62M549.06,386.26V379.45M550.51,388.22V381.62M551.95,390.95V384.46M553.4,393.4V386.73M556.3,395.44V389.27M559.19,396.91V390.95M562.08,397.68V392.14M579.45,412.66V406.01M614.17,448.88V441.46M648.9,474.79V467.18" fill="none" stroke="#005a00" stroke-width="1.75"/>
<path d="M125.85,402.31H133.05M127.29,391.54H134.49M128.74,387.22H135.94M130.19,385.34H137.39M131.63,385.03H138.83M133.08,389.82H140.28M135.98,392.14H143.18M138.87,395.44H146.07M141.76,397.22H148.96M159.13,414.95H166.33M193.85,445.2H201.05M228.58,474.92H235.78M263.31,413.7H270.51M298.03,408.73H305.23M332.76,417.24H339.96M367.49,413.55H374.69M402.21,409.69H409.41M436.94,408.5H444.14M471.67,411.32H478.87M506.39,411.32H513.59M541.12,411.25H548.32M542.57,391.54H549.77M544.01,381.62H551.21M545.46,379.45H552.66M546.91,381.62H554.11M548.35,384.46H555.55M549.8,386.73H557M552.7,389.27H559.9M555.59,390.95H562.79M558.48,392.14H565.68M575.85,406.01H583.05M610.57,441.46H617.77M645.3,467.18H652.5" fill="none" stroke="#005a00" stroke-width="2.15"/>
<ellipse cx="129.45" cy="409.09" rx="3.7" ry="4.1" fill="#005a00"/>
<ellipse cx="130.89" cy="398.49" rx="3.7" ry="4.1" fill="#005a00"/>
<ellipse cx="132.34" cy="394.06" rx="3.7" ry="4.1" fill="#005a00"/>
<ellipse cx="133.79" cy="392.14" rx="3.7" ry="4.1" fill="#005a00"/>
<ellipse cx="135.23" cy="392.76" rx="3.7" ry="4.1" fill="#005a00"/>
<ellipse cx="136.68" cy="396.16" rx="3.7" ry="4.1" fill="#005a00"/>
<ellipse cx="139.58" cy="398.49" rx="3.7" ry="4.1" fill="#005a00"/>
<ellipse cx="142.47" cy="401.09" rx="3.7" ry="4.1" fill="#005a00"/>
<ellipse cx="145.36" cy="402.51" rx="3.7" ry="4.1" fill="#005a00"/>
<ellipse cx="162.73" cy="420.85" rx="3.7" ry="4.1" fill="#005a00"/>
<ellipse cx="197.45" cy="452.35" rx="3.7" ry="4.1" fill="#005a00"/>
<ellipse cx="232.18" cy="483.8" rx="3.7" ry="4.1" fill="#005a00"/>
<ellipse cx="266.91" cy="421.42" rx="3.7" ry="4.1" fill="#005a00"/>
<ellipse cx="301.63" cy="415.53" rx="3.7" ry="4.1" fill="#005a00"/>
<ellipse cx="336.36" cy="425.21" rx="3.7" ry="4.1" fill="#005a00"/>
<ellipse cx="371.09" cy="421.21" rx="3.7" ry="4.1" fill="#005a00"/>
<ellipse cx="405.81" cy="416.84" rx="3.7" ry="4.1" fill="#005a00"/>
<ellipse cx="440.54" cy="415.21" rx="3.7" ry="4.1" fill="#005a00"/>
<ellipse cx="475.27" cy="418.12" rx="3.7" ry="4.1" fill="#005a00"/>
<ellipse cx="509.99" cy="418.12" rx="3.7" ry="4.1" fill="#005a00"/>
<ellipse cx="544.72" cy="418.02" rx="3.7" ry="4.1" fill="#005a00"/>
<ellipse cx="546.17" cy="398.49" rx="3.7" ry="4.1" fill="#005a00"/>
<ellipse cx="547.61" cy="387.22" rx="3.7" ry="4.1" fill="#005a00"/>
<ellipse cx="549.06" cy="386.26" rx="3.7" ry="4.1" fill="#005a00"/>
<ellipse cx="550.51" cy="388.22" rx="3.7" ry="4.1" fill="#005a00"/>
<ellipse cx="551.95" cy="390.95" rx="3.7" ry="4.1" fill="#005a00"/>
<ellipse cx="553.4" cy="393.4" rx="3.7" ry="4.1" fill="#005a00"/>
<ellipse cx="556.3" cy="395.44" rx="3.7" ry="4.1" fill="#005a00"/>
<ellipse cx="559.19" cy="396.91" rx="3.7" ry="4.1" fill="#005a00"/>
<ellipse cx="562.08" cy="397.68" rx="3.7" ry="4.1" fill="#005a00"/>
<ellipse cx="579.45" cy="412.66" rx="3.7" ry="4.1" fill="#005a00"/>
<ellipse cx="614.17" cy="448.88" rx="3.7" ry="4.1" fill="#005a00"/>
<ellipse cx="648.9" cy="474.79" rx="3.7" ry="4.1" fill="#005a00"/>
<path d="M129.45,416.38 L130.89,400.18 L132.34,394.67 L133.79,395.44 L135.23,397.68 L136.68,400.18 L139.58,403 L142.47,406.24 L145.36,405.11 L162.73,421.3 L197.45,457.99 L232.18,486.06 L266.91,422.48 L301.63,419.39 L336.36,424.4 L371.09,423.3 L405.81,418.12 L440.54,421.98 L475.27,422.46 L509.99,425.3 L544.72,425.3 L546.17,405.11 L547.61,394.06 L549.06,391.54 L550.51,392.76 L551.95,395.44 L553.4,396.91 L556.3,398.49 L559.19,400.18 L562.08,400.81 L579.45,422.24 L614.17,456.24 L648.9,481.18" fill="none" stroke="#ff6300" stroke-width="2" stroke-linejoin="round"/>
<path d="M129.45,416.38V408.69M130.89,400.18V392.76M132.34,394.67V389M133.79,395.44V388.74M135.23,397.68V390.95M136.68,400.18V393.4M139.58,403V396.16M142.47,406.24V399.32M145.36,405.11V398.9M162.73,421.3V415.3M197.45,457.99V449.95M232.18,486.06V480.04M266.91,422.48V414.44M301.63,419.39V412.25M336.36,424.4V416.67M371.09,423.3V415.89M405.81,418.12V410.6M440.54,421.98V414.09M475.27,422.46V414.43M509.99,425.3V417.3M544.72,425.3V417.3M546.17,405.11V397.68M547.61,394.06V386.73M549.06,391.54V384.46M550.51,392.76V385.79M551.95,395.44V388.74M553.4,396.91V390.37M556.3,398.49V392.14M559.19,400.18V394.06M562.08,400.81V395.23M579.45,422.24V415.13M614.17,456.24V447.94M648.9,481.18V472.66" fill="none" stroke="#ff6300" stroke-width="1.75"/>
<path d="M125.85,408.69H133.05M127.29,392.76H134.49M128.74,389H135.94M130.19,388.74H137.39M131.63,390.95H138.83M133.08,393.4H140.28M135.98,396.16H143.18M138.87,399.32H146.07M141.76,398.9H148.96M159.13,415.3H166.33M193.85,449.95H201.05M228.58,480.04H235.78M263.31,414.44H270.51M298.03,412.25H305.23M332.76,416.67H339.96M367.49,415.89H374.69M402.21,410.6H409.41M436.94,414.09H444.14M471.67,414.43H478.87M506.39,417.3H513.59M541.12,417.3H548.32M542.57,397.68H549.77M544.01,386.73H551.21M545.46,384.46H552.66M546.91,385.79H554.11M548.35,388.74H555.55M549.8,390.37H557M552.7,392.14H559.9M555.59,394.06H562.79M558.48,395.23H565.68M575.85,415.13H583.05M610.57,447.94H617.77M645.3,472.66H652.5" fill="none" stroke="#ff6300" stroke-width="2.15"/>
<ellipse cx="129.45" cy="416.38" rx="3.7" ry="4.1" fill="#ff6300"/>
<ellipse cx="130.89" cy="400.18" rx="3.7" ry="4.1" fill="#ff6300"/>
<ellipse cx="132.34" cy="394.67" rx="3.7" ry="4.1" fill="#ff6300"/>
<ellipse cx="133.79" cy="395.44" rx="3.7" ry="4.1" fill="#ff6300"/>
<ellipse cx="135.23" cy="397.68" rx="3.7" ry="4.1" fill="#ff6300"/>
<ellipse cx="136.68" cy="400.18" rx="3.7" ry="4.1" fill="#ff6300"/>
<ellipse cx="139.58" cy="403" rx="3.7" ry="4.1" fill="#ff6300"/>
<ellipse cx="142.47" cy="406.24" rx="3.7" ry="4.1" fill="#ff6300"/>
<ellipse cx="145.36" cy="405.11" rx="3.7" ry="4.1" fill="#ff6300"/>
<ellipse cx="162.73" cy="421.3" rx="3.7" ry="4.1" fill="#ff6300"/>
<ellipse cx="197.45" cy="457.99" rx="3.7" ry="4.1" fill="#ff6300"/>
<ellipse cx="232.18" cy="486.06" rx="3.7" ry="4.1" fill="#ff6300"/>
<ellipse cx="266.91" cy="422.48" rx="3.7" ry="4.1" fill="#ff6300"/>
<ellipse cx="301.63" cy="419.39" rx="3.7" ry="4.1" fill="#ff6300"/>
<ellipse cx="336.36" cy="424.4" rx="3.7" ry="4.1" fill="#ff6300"/>
<ellipse cx="371.09" cy="423.3" rx="3.7" ry="4.1" fill="#ff6300"/>
<ellipse cx="405.81" cy="418.12" rx="3.7" ry="4.1" fill="#ff6300"/>
<ellipse cx="440.54" cy="421.98" rx="3.7" ry="4.1" fill="#ff6300"/>
<ellipse cx="475.27" cy="422.46" rx="3.7" ry="4.1" fill="#ff6300"/>
<ellipse cx="509.99" cy="425.3" rx="3.7" ry="4.1" fill="#ff6300"/>
<ellipse cx="544.72" cy="425.3" rx="3.7" ry="4.1" fill="#ff6300"/>
<ellipse cx="546.17" cy="405.11" rx="3.7" ry="4.1" fill="#ff6300"/>
<ellipse cx="547.61" cy="394.06" rx="3.7" ry="4.1" fill="#ff6300"/>
<ellipse cx="549.06" cy="391.54" rx="3.7" ry="4.1" fill="#ff6300"/>
<ellipse cx="550.51" cy="392.76" rx="3.7" ry="4.1" fill="#ff6300"/>
<ellipse cx="551.95" cy="395.44" rx="3.7" ry="4.1" fill="#ff6300"/>
<ellipse cx="553.4" cy="396.91" rx="3.7" ry="4.1" fill="#ff6300"/>
<ellipse cx="556.3" cy="398.49" rx="3.7" ry="4.1" fill="#ff6300"/>
<ellipse cx="559.19" cy="400.18" rx="3.7" ry="4.1" fill="#ff6300"/>
<ellipse cx="562.08" cy="400.81" rx="3.7" ry="4.1" fill="#ff6300"/>
<ellipse cx="579.45" cy="422.24" rx="3.7" ry="4.1" fill="#ff6300"/>
<ellipse cx="614.17" cy="456.24" rx="3.7" ry="4.1" fill="#ff6300"/>
<ellipse cx="648.9" cy="481.18" rx="3.7" ry="4.1" fill="#ff6300"/>
<path d="M129.45,432.42 L130.89,411.45 L132.34,405.11 L133.79,403 L135.23,408.69 L136.68,411.45 L139.58,414.61 L142.47,419.75 L145.36,416.38 L162.73,438.51 L197.45,474.02 L232.18,501.35 L266.91,436.5 L301.63,430.7 L336.36,437.82 L371.09,433.79 L405.81,433.11 L440.54,436.18 L475.27,435.69 L509.99,433.99 L544.72,431.49 L546.17,416.75 L547.61,402.51 L549.06,402.02 L550.51,404.03 L551.95,406.24 L553.4,408.69 L556.3,412.2 L559.19,412.98 L562.08,412.66 L579.45,429.57 L614.17,466.28 L648.9,489.82" fill="none" stroke="#333333" stroke-width="2" stroke-linejoin="round"/>
<path d="M129.45,432.42V423.22M130.89,411.45V403M132.34,405.11V398.49M133.79,403V395.44M135.23,408.69V401.09M136.68,411.45V404.03M139.58,414.61V407.43M142.47,419.75V412.2M145.36,416.38V410.45M162.73,438.51V432.04M197.45,474.02V465.93M232.18,501.35V491.14M266.91,436.5V428.84M301.63,430.7V423.3M336.36,437.82V429.77M371.09,433.79V426.89M405.81,433.11V424.99M440.54,436.18V428.62M475.27,435.69V428.27M509.99,433.99V426.45M544.72,431.49V423.86M546.17,416.75V408.95M547.61,402.51V390.09M549.06,402.02V390.37M550.51,404.03V395.44M551.95,406.24V398.49M553.4,408.69V401.09M556.3,412.2V405.67M559.19,412.98V407.93M562.08,412.66V408.05M579.45,429.57V422.48M614.17,466.28V457.63M648.9,489.82V481.39" fill="none" stroke="#333333" stroke-width="1.75"/>
<path d="M125.85,423.22H133.05M127.29,403H134.49M128.74,398.49H135.94M130.19,395.44H137.39M131.63,401.09H138.83M133.08,404.03H140.28M135.98,407.43H143.18M138.87,412.2H146.07M141.76,410.45H148.96M159.13,432.04H166.33M193.85,465.93H201.05M228.58,491.14H235.78M263.31,428.84H270.51M298.03,423.3H305.23M332.76,429.77H339.96M367.49,426.89H374.69M402.21,424.99H409.41M436.94,428.62H444.14M471.67,428.27H478.87M506.39,426.45H513.59M541.12,423.86H548.32M542.57,408.95H549.77M544.01,390.09H551.21M545.46,390.37H552.66M546.91,395.44H554.11M548.35,398.49H555.55M549.8,401.09H557M552.7,405.67H559.9M555.59,407.93H562.79M558.48,408.05H565.68M575.85,422.48H583.05M610.57,457.63H617.77M645.3,481.39H652.5" fill="none" stroke="#333333" stroke-width="2.15"/>
<ellipse cx="129.45" cy="432.42" rx="3.7" ry="4.1" fill="#333333"/>
<ellipse cx="130.89" cy="411.45" rx="3.7" ry="4.1" fill="#333333"/>
<ellipse cx="132.34" cy="405.11" rx="3.7" ry="4.1" fill="#333333"/>
<ellipse cx="133.79" cy="403" rx="3.7" ry="4.1" fill="#333333"/>
<ellipse cx="135.23" cy="408.69" rx="3.7" ry="4.1" fill="#333333"/>
<ellipse cx="136.68" cy="411.45" rx="3.7" ry="4.1" fill="#333333"/>
<ellipse cx="139.58" cy="414.61" rx="3.7" ry="4.1" fill="#333333"/>
<ellipse cx="142.47" cy="419.75" rx="3.7" ry="4.1" fill="#333333"/>
<ellipse cx="145.36" cy="416.38" rx="3.7" ry="4.1" fill="#333333"/>
<ellipse cx="162.73" cy="438.51" rx="3.7" ry="4.1" fill="#333333"/>
<ellipse cx="197.45" cy="474.02" rx="3.7" ry="4.1" fill="#333333"/>
<ellipse cx="232.18" cy="501.35" rx="3.7" ry="4.1" fill="#333333"/>
<ellipse cx="266.91" cy="436.5" rx="3.7" ry="4.1" fill="#333333"/>
<ellipse cx="301.63" cy="430.7" rx="3.7" ry="4.1" fill="#333333"/>
<ellipse cx="336.36" cy="437.82" rx="3.7" ry="4.1" fill="#333333"/>
<ellipse cx="371.09" cy="433.79" rx="3.7" ry="4.1" fill="#333333"/>
<ellipse cx="405.81" cy="433.11" rx="3.7" ry="4.1" fill="#333333"/>
<ellipse cx="440.54" cy="436.18" rx="3.7" ry="4.1" fill="#333333"/>
<ellipse cx="475.27" cy="435.69" rx="3.7" ry="4.1" fill="#333333"/>
<ellipse cx="509.99" cy="433.99" rx="3.7" ry="4.1" fill="#333333"/>
<ellipse cx="544.72" cy="431.49" rx="3.7" ry="4.1" fill="#333333"/>
<ellipse cx="546.17" cy="416.75" rx="3.7" ry="4.1" fill="#333333"/>
<ellipse cx="547.61" cy="402.51" rx="3.7" ry="4.1" fill="#333333"/>
<ellipse cx="549.06" cy="402.02" rx="3.7" ry="4.1" fill="#333333"/>
<ellipse cx="550.51" cy="404.03" rx="3.7" ry="4.1" fill="#333333"/>
<ellipse cx="551.95" cy="406.24" rx="3.7" ry="4.1" fill="#333333"/>
<ellipse cx="553.4" cy="408.69" rx="3.7" ry="4.1" fill="#333333"/>
<ellipse cx="556.3" cy="412.2" rx="3.7" ry="4.1" fill="#333333"/>
<ellipse cx="559.19" cy="412.98" rx="3.7" ry="4.1" fill="#333333"/>
<ellipse cx="562.08" cy="412.66" rx="3.7" ry="4.1" fill="#333333"/>
<ellipse cx="579.45" cy="429.57" rx="3.7" ry="4.1" fill="#333333"/>
<ellipse cx="614.17" cy="466.28" rx="3.7" ry="4.1" fill="#333333"/>
<ellipse cx="648.9" cy="489.82" rx="3.7" ry="4.1" fill="#333333"/>
</svg>
</body></html>
